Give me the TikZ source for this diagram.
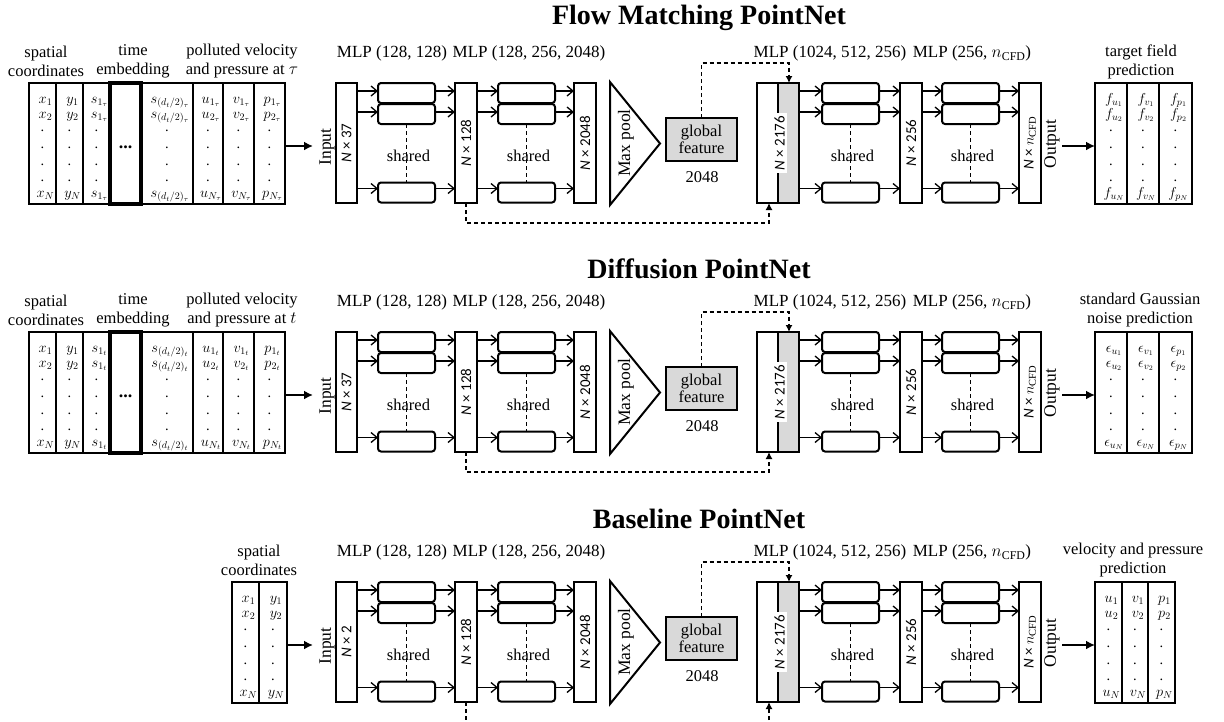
\documentclass[tikz,border=0pt]{standalone}
\usepackage{fontspec}
\setmainfont{Liberation Serif}
\newfontfamily\carl{Carlito}
\usetikzlibrary{arrows.meta,calc}
\definecolor{featgray}{HTML}{D9D9D9}
\tikzset{
 every node/.style={inner sep=0pt, outer sep=0pt},
 txt/.style={font=\fontsize{16.5}{19}\selectfont},
 mlptxt/.style={font=\fontsize{17}{19}\selectfont, anchor=base},
 ttl/.style={font=\fontsize{28}{32}\selectfont\bfseries, anchor=base},
 layer/.style={draw, line width=2pt, minimum width=21pt, minimum height=120pt},
 mlpbox/.style={draw, line width=2pt, rounded corners=3pt, minimum width=57pt, minimum height=20pt},
 dimlbl/.style={rotate=90, font=\fontsize{15}{17}\carl},
 rotlbl/.style={rotate=90, font=\fontsize{17.5}{20}\selectfont},
 ff/.style={line width=1.3pt, -{Straight Barb[length=6pt,width=10pt]}},
 shareline/.style={line width=1.3pt, dash pattern=on 4pt off 3pt},
 skip/.style={line width=1.3pt, dash pattern=on 4pt off 3pt, -{Latex[length=7pt,width=7pt]}},
 bigarrow/.style={line width=2pt, -{Latex[length=9pt,width=9pt]}},
 ent/.style={font=\fontsize{14.5}{16}\selectfont, anchor=base},
 tab/.style={draw, line width=2pt, minimum height=121pt},
 divider/.style={line width=2pt},
}
% column of a table: name, x, first, second, last
\newcommand\tcol[5]{%
 \node[ent] (#1a) at (#2+3,103) {#3};
 \node[ent] (#1b) at (#2+3,118) {#4};
 \foreach \yy/\k in {131/1,148/2,165/3,181/4}{\node[ent] (#1d\k) at (#2,\yy) {.};}
 \node[ent] (#1n) at (#2+3,197) {#5};
}
\newcommand\pnet[2]{%
 \node[layer] (inp) at (346.5,143) {};
 \node[dimlbl] (inpd) at (inp.center) {{\itshape N} × #1};
 \node[rotlbl] (inlbl) at (327,147) {Input};
 \foreach \c/\x in {a/406.5, b/526.5, c/850.5, d/970.5}{
   \node[mlpbox] (\c1) at (\x,93) {};
   \node[mlpbox] (\c2) at (\x,114) {};
   \node[mlpbox] (\c3) at (\x,192.5) {};
   \draw[shareline] (\c2.south) -- (\c3.north);
   \node[txt] (\c s) at (\x+2,156) {shared};
 }
 \node[layer, minimum width=22pt] (l128) at (466,143) {};
 \node[dimlbl] (l128d) at (l128.center) {{\itshape N} × 128};
 \node[layer, minimum width=22pt] (l2048) at (585,143) {};
 \node[dimlbl] (l2048d) at (l2048.center) {{\itshape N} × 2048};
 \node[layer, minimum width=42pt, path picture={\fill[featgray] (path picture bounding box.north) rectangle (path picture bounding box.south east);}] (l2176) at (778,143) {};
 \draw[divider] (l2176.north) -- (l2176.south);
 \node[dimlbl, fill=white, inner sep=2.5pt] (l2176d) at ([xshift=1.5pt]l2176.center) {{\itshape N} × 2176};
 \node[layer, minimum width=22pt] (l256) at (911,143) {};
 \node[dimlbl] (l256d) at (l256.center) {{\itshape N} × 256};
 \node[layer, minimum width=22pt] (lout) at (1030,143) {};
 \node[dimlbl] (loutd) at (lout.center) {{\itshape N} × $n_{\mathrm{CFD}}$};
 \node[rotlbl] (outlbl) at (1052,144) {Output};
 \foreach \r/\s in {1/2pt,2/2pt,3/4pt}{
   \draw[ff] ([yshift=\s]inp.east |- a\r) -- ([yshift=\s]a\r.west);
   \draw[ff] ([yshift=\s]a\r.east) -- ([yshift=\s]l128.west |- a\r);
   \draw[ff] ([yshift=\s]l128.east |- b\r) -- ([yshift=\s]b\r.west);
   \draw[ff] ([yshift=\s]b\r.east) -- ([yshift=\s]l2048.west |- b\r);
   \draw[ff] ([yshift=\s]l2176.east |- c\r) -- ([yshift=\s]c\r.west);
   \draw[ff] ([yshift=\s]c\r.east) -- ([yshift=\s]l256.west |- c\r);
   \draw[ff] ([yshift=\s]l256.east |- d\r) -- ([yshift=\s]d\r.west);
   \draw[ff] ([yshift=\s]d\r.east) -- ([yshift=\s]lout.west |- d\r);
 }
 \draw[line width=2pt] (610,82) -- (660,143.5) -- (610,205) -- cycle;
 \node[rotlbl] (mp) at (626,143) {Max pool};
 \node[draw, line width=2pt, fill=featgray, minimum width=71pt, minimum height=43pt, align=center, font=\fontsize{16.5}{17}\selectfont] (gf) at (701.5,139.5) {global\\feature};
 \node[txt] (gfd) at (702,177) {2048};
 \coordinate (tb) at (789,63);
 \draw[skip] (gf.north) |- (tb) -- (l2176.north -| tb);
 \coordinate (bb) at (769,#2);
 \draw[skip] (l128.south) |- (bb) -- (l2176.south -| bb);
 \node[mlptxt] (m1) at (392,57.5) {MLP (128, 128)};
 \node[mlptxt] (m2) at (529,57.5) {MLP (128, 256, 2048)};
 \node[mlptxt] (m3) at (830,57.5) {MLP (1024, 512, 256)};
 \node[mlptxt] (m4) at (972,57.5) {MLP (256, $n_{\mathrm{CFD}}$)};
 \coordinate (ia) at (313,146);
 \coordinate (oa) at (1062,146);
}
\newcommand\intab[1]{%
 \node[tab, minimum width=256pt] (itab) at (157,143.5) {};
 \foreach \x in {56,83,193,223,254}{\draw[divider] (\x,83) -- (\x,204);}
 \node[draw, line width=3.5pt, minimum width=31pt, minimum height=121pt] (thk) at (125.5,143.5) {};
 \node[font=\fontsize{18}{20}\selectfont\bfseries] (ell) at (125.5,147) {...};
 \tcol{cx}{42.5}{$x_1$}{$x_2$}{$x_N$}
 \tcol{cy}{69.5}{$y_1$}{$y_2$}{$y_N$}
 \tcol{cs}{96.5}{$s_{1_{#1}}$}{$s_{1_{#1}}$}{$s_{1_{#1}}$}
 \tcol{cd}{167}{$s_{(d_t/2)_{#1}}$}{$s_{(d_t/2)_{#1}}$}{$s_{(d_t/2)_{#1}}$}
 \tcol{cu}{208}{$u_{1_{#1}}$}{$u_{2_{#1}}$}{$u_{N_{#1}}$}
 \tcol{cv}{238.5}{$v_{1_{#1}}$}{$v_{2_{#1}}$}{$v_{N_{#1}}$}
 \tcol{cp}{269.5}{$p_{1_{#1}}$}{$p_{2_{#1}}$}{$p_{N_{#1}}$}
 \node[txt, align=center] (lsp) at (46,61.5) {spatial\\coordinates};
 \node[txt, align=center] (lte) at (133,61.5) {time\\embedding};
 \node[txt, align=center] (lpo) at (242,61.5) {polluted velocity\\and pressure at $#1$};
 \draw[bigarrow] (itab.east |- ia) -- (ia);
}
\newcommand\outtab[3]{%
 \node[tab, minimum width=97pt] (otab) at (1143.5,143.5) {};
 \foreach \x in {1127,1159}{\draw[divider] (\x,83) -- (\x,204);}
 \tcol{ou}{1111}{$#2{u_1}$}{$#2{u_2}$}{$#2{u_N}$}
 \tcol{ov}{1143}{$#2{v_1}$}{$#2{v_2}$}{$#2{v_N}$}
 \tcol{op}{1175.5}{$#2{p_1}$}{$#2{p_2}$}{$#2{p_N}$}
 \node[txt, align=center] (olbl) at (#3,61.5) {#1};
 \draw[bigarrow] (oa) -- (otab.west |- oa);
}
\newcommand\fsym[1]{f_{#1}}
\newcommand\esym[1]{\epsilon_{#1}}
\begin{document}
\begin{tikzpicture}[x=1pt,y=-1pt]
\useasboundingbox (0,0) rectangle (1224,721);
\clip (0,0) rectangle (1224,721);
\node[ttl] (t1) at (699,24.5) {Flow Matching PointNet};
\node[ttl] (t2) at (699,278) {Diffusion PointNet};
\node[ttl] (t3) at (699,528) {Baseline PointNet};
\begin{scope}[name prefix=p1-]
 \pnet{37}{223}
 \intab{\tau}
 \outtab{target field\\prediction}{\fsym}{1141}
\end{scope}
\begin{scope}[yshift=-249pt, name prefix=p2-]
 \pnet{37}{223}
 \intab{t}
 \outtab{standard Gaussian\\noise prediction}{\esym}{1140}
\end{scope}
\begin{scope}[yshift=-499pt, name prefix=p3-]
 \pnet{2}{232}
 \node[tab, minimum width=55pt] (itab) at (259.5,143.5) {};
 \draw[divider] (259,83) -- (259,204);
 \tcol{cx}{245.5}{$x_1$}{$x_2$}{$x_N$}
 \tcol{cy}{273}{$y_1$}{$y_2$}{$y_N$}
 \node[txt, align=center] (lsp) at (259,61.5) {spatial\\coordinates};
 \draw[bigarrow] (itab.east |- ia) -- (ia);
 \node[tab, minimum width=80pt] (otab) at (1135,143.5) {};
 \foreach \x in {1122,1148}{\draw[divider] (\x,83) -- (\x,204);}
 \tcol{ou}{1108.5}{$u_1$}{$u_2$}{$u_N$}
 \tcol{ov}{1135}{$v_1$}{$v_2$}{$v_N$}
 \tcol{op}{1161.5}{$p_1$}{$p_2$}{$p_N$}
 \node[txt, align=center] (olbl) at (1133,61.5) {velocity and pressure\\prediction};
 \draw[bigarrow] (oa) -- (otab.west |- oa);
\end{scope}
\end{tikzpicture}
\end{document}
